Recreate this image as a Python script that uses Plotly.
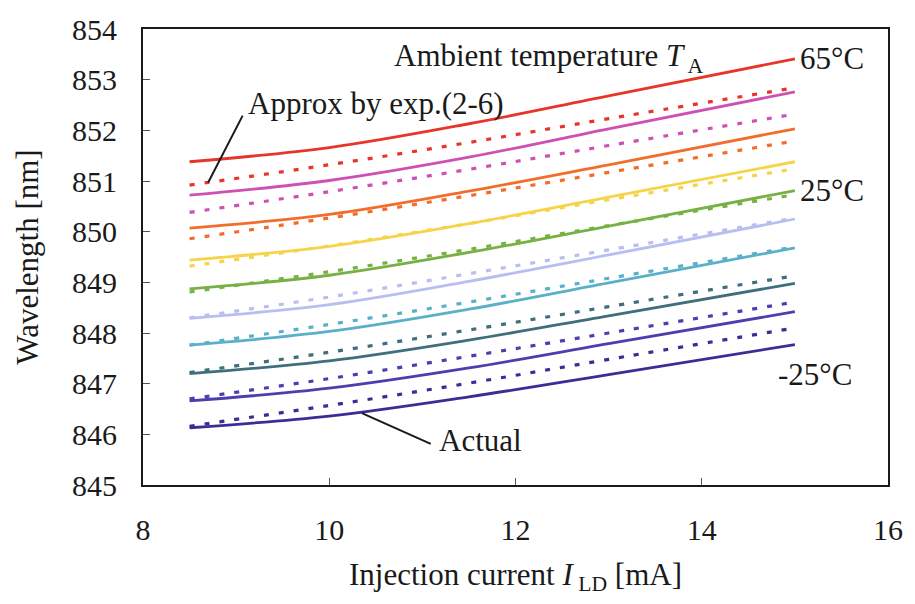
import plotly.graph_objects as go

# Injection current [mA]
current = [8.5, 10.0, 11.5, 13.0, 15.0]

temps = ["-25", "-15", "-5", "5", "15", "25", "35", "45", "55", "65"]
colors = ["#3A2E96", "#4B3FB0", "#3F6F7C", "#5BB0C9", "#B9BEF2",
          "#77B144", "#F6D44A", "#F26D2C", "#CE50B4", "#E8352A"]

# Actual measured wavelength [nm]
actual = {
    "-25": [846.13, 846.36, 846.74, 847.18, 847.77],
    "-15": [846.66, 846.91, 847.31, 847.79, 848.42],
    "-5":  [847.20, 847.45, 847.86, 848.34, 848.98],
    "5":   [847.76, 848.03, 848.47, 848.99, 849.68],
    "15":  [848.29, 848.56, 849.02, 849.54, 850.25],
    "25":  [848.87, 849.14, 849.59, 850.11, 850.81],
    "35":  [849.44, 849.71, 850.16, 850.68, 851.38],
    "45":  [850.07, 850.34, 850.80, 851.32, 852.03],
    "55":  [850.72, 851.01, 851.47, 852.03, 852.76],
    "65":  [851.38, 851.66, 852.13, 852.68, 853.41],
}

# Approximation by exp.(2-6) [nm]
approx = {
    "-25": [846.16, 846.57, 847.01, 847.48, 848.10],
    "-15": [846.70, 847.10, 847.54, 848.00, 848.61],
    "-5":  [847.22, 847.62, 848.06, 848.52, 849.13],
    "5":   [847.76, 848.17, 848.61, 849.08, 849.70],
    "15":  [848.30, 848.71, 849.17, 849.64, 850.27],
    "25":  [848.81, 849.21, 849.65, 850.12, 850.73],
    "35":  [849.32, 849.72, 850.16, 850.63, 851.24],
    "45":  [849.86, 850.27, 850.71, 851.17, 851.79],
    "55":  [850.38, 850.79, 851.23, 851.70, 852.32],
    "65":  [850.92, 851.32, 851.76, 852.23, 852.84],
}

x_ticks = [8, 10, 12, 14, 16]
y_ticks = [845, 846, 847, 848, 849, 850, 851, 852, 853, 854]

FONT = "Liberation Serif, Times New Roman, serif"

fig = go.Figure()
for t, c in zip(temps, colors):
    fig.add_trace(go.Scatter(x=current, y=actual[t], mode="lines",
                             line=dict(color=c, width=2.8, shape="spline", smoothing=1.0),
                             showlegend=False, name=f"Actual {t}°C"))
for t, c in zip(temps, colors):
    fig.add_trace(go.Scatter(x=current, y=approx[t], mode="lines",
                             line=dict(color=c, width=3.2, dash="5px,10px", shape="spline", smoothing=1.0),
                             showlegend=False, name=f"Approx {t}°C"))

txt = dict(family=FONT, size=31, color="#1a1a1a")
ann = [
    dict(x=10.67, y=853.42, text="Ambient temperature <i>T</i><sub> A</sub>"),
    dict(x=15.03, y=853.42, text="65°C"),
    dict(x=15.03, y=850.81, text="25°C"),
    dict(x=14.80, y=847.19, text="-25°C"),
    dict(x=9.11, y=852.53, text="Approx by exp.(2-6)"),
    dict(x=11.16, y=845.87, text="Actual"),
]
for a in ann:
    fig.add_annotation(xref="x", yref="y", xanchor="left", yanchor="middle",
                       showarrow=False, font=txt, **a)

fig.add_shape(type="line", xref="x", yref="y", x0=9.07, y0=852.29, x1=8.70, y1=850.97,
              line=dict(color="#1a1a1a", width=2))
fig.add_shape(type="line", xref="x", yref="y", x0=10.35, y0=846.42, x1=11.09, y1=845.81,
              line=dict(color="#1a1a1a", width=2))

fig.update_layout(
    width=915, height=604,
    margin=dict(l=143, r=22, t=22, b=119),
    paper_bgcolor="white", plot_bgcolor="white",
    font=dict(family=FONT, color="#1a1a1a"),
    xaxis=dict(range=[8, 16], tickvals=x_ticks, ticktext=[str(v) for v in x_ticks],
               ticks="inside", ticklen=7, tickcolor="#555", showgrid=False, zeroline=False,
               showline=True, linecolor="#1a1a1a", linewidth=2, mirror=True,
               tickfont=dict(family=FONT, size=30), ticklabelstandoff=17,
               title=dict(text="Injection current <i>I</i><sub> LD</sub> [mA]",
                          font=dict(family=FONT, size=31), standoff=18)),
    yaxis=dict(range=[845, 854], tickvals=y_ticks, ticktext=[str(v) for v in y_ticks],
               ticks="inside", ticklen=7, tickcolor="#555", showgrid=False, zeroline=False,
               showline=True, linecolor="#1a1a1a", linewidth=2, mirror=True,
               tickfont=dict(family=FONT, size=30), ticklabelstandoff=18,
               title=dict(text="Wavelength [nm]", font=dict(family=FONT, size=31), standoff=24)),
)

fig.write_html("out.html")
